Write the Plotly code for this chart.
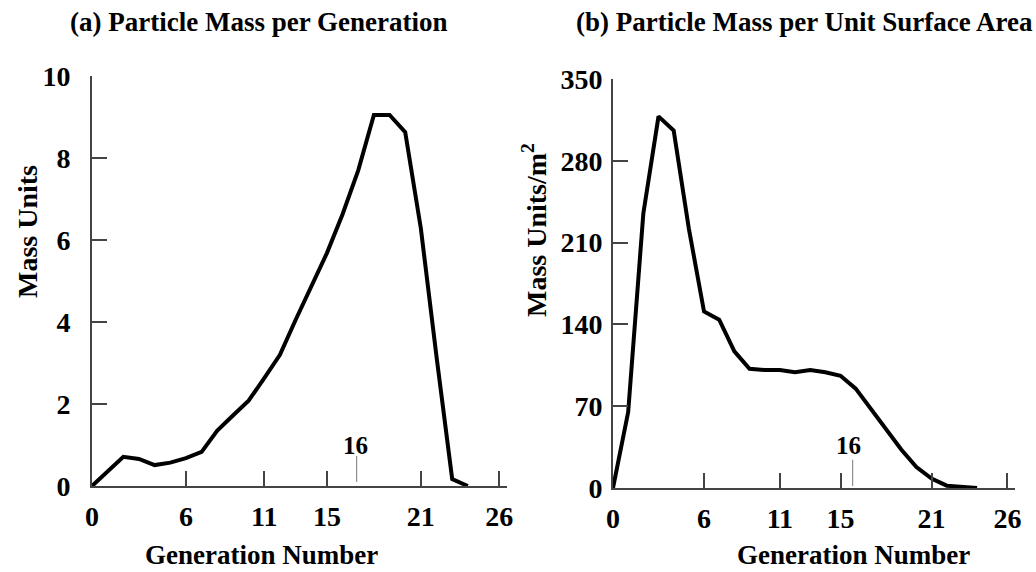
import plotly.graph_objects as go

# ---- data ----
generations = list(range(0, 25))
mass_per_generation = [0, 0.35, 0.71, 0.66, 0.51, 0.57, 0.68, 0.83, 1.35, 1.72,
                       2.08, 2.63, 3.2, 4.05, 4.87, 5.68, 6.63, 7.7, 9.05, 9.05,
                       8.63, 6.28, 3.15, 0.17, 0]
mass_per_area = [0, 65, 235, 318, 306, 222, 151, 144, 117, 102,
                 101, 101, 99, 101, 99, 96, 85, 68, 51, 33,
                 18, 8, 2, 0.6, 0]

x_tickvals = [0, 6, 11, 15, 21, 26]
y_tickvals_a = [0, 2, 4, 6, 8, 10]
y_tickvals_b = [0, 70, 140, 210, 280, 350]
marker_label = "16"
marker_pos_a = 16.9
marker_pos_b = 15.8

W, H = 1036, 572
FONT = "Liberation Serif"

def px(x):
    return x / W

def py(y):
    return 1 - y / H

fig = go.Figure()
fig.add_trace(go.Scatter(x=generations, y=mass_per_generation, mode="lines",
                         line=dict(color="black", width=4), xaxis="x", yaxis="y",
                         showlegend=False))
fig.add_trace(go.Scatter(x=generations, y=mass_per_area, mode="lines",
                         line=dict(color="black", width=4), xaxis="x2", yaxis="y2",
                         showlegend=False))

axis_common = dict(showline=True, linecolor="#444", linewidth=2, showgrid=False,
                   zeroline=False, ticks="inside", ticklen=15, tickwidth=1.5,
                   tickcolor="#444", automargin=False,
                   tickfont=dict(family=FONT, size=28, color="black", weight="bold"))

fig.update_layout(
    template="none",
    width=W, height=H,
    margin=dict(l=0, r=0, t=0, b=0, pad=0),
    plot_bgcolor="white", paper_bgcolor="white",
    xaxis=dict(domain=[px(92), px(507)], range=[0, 26.5], tickvals=x_tickvals,
               anchor="y", ticklabelstandoff=4, **axis_common),
    yaxis=dict(domain=[py(486), py(76)], range=[0, 10], tickvals=y_tickvals_a,
               anchor="x", ticklabelstandoff=14, **axis_common),
    xaxis2=dict(domain=[px(613), px(1015)], range=[0, 26.5], tickvals=x_tickvals,
                anchor="y2", ticklabelstandoff=4, **axis_common),
    yaxis2=dict(domain=[py(488), py(79)], range=[0, 350], tickvals=y_tickvals_b,
                anchor="x2", ticklabelstandoff=3, **axis_common),
)

title_font = dict(family=FONT, size=27, color="black", weight="bold")
xtitle_font = dict(family=FONT, size=27, color="black", weight="bold")
ytitle_font = dict(family=FONT, size=28, color="black", weight="bold")
ann = [
    dict(text="(a) Particle Mass per Generation", x=px(258), y=py(22), font=title_font),
    dict(text="(b) Particle Mass per Unit Surface Area", x=px(804), y=py(22), font=title_font),
    dict(text="Generation Number", x=px(261), y=py(555), font=xtitle_font),
    dict(text="Generation Number", x=px(853), y=py(555), font=xtitle_font),
    dict(text="Mass Units", x=px(27), y=py(232), textangle=-90, font=ytitle_font),
    dict(text="Mass Units/m<sup>2</sup>", x=px(534), y=py(230), textangle=-90, font=ytitle_font),
]
for a in ann:
    fig.add_annotation(xref="paper", yref="paper", showarrow=False,
                       xanchor="center", yanchor="middle", **a)

# "16" markers
fig.add_shape(type="line", xref="x", yref="y domain", x0=marker_pos_a, x1=marker_pos_a,
              y0=0.01, y1=0.073, line=dict(color="#777", width=1))
fig.add_shape(type="line", xref="x2", yref="y2 domain", x0=marker_pos_b, x1=marker_pos_b,
              y0=0.005, y1=0.069, line=dict(color="#777", width=1))
fig.add_annotation(xref="x", yref="y domain", x=marker_pos_a - 0.1, y=0.098,
                   text=marker_label, showarrow=False, yanchor="middle",
                   font=dict(family=FONT, size=25, color="black", weight="bold"))
fig.add_annotation(xref="x2", yref="y2 domain", x=marker_pos_b - 0.3, y=0.105,
                   text=marker_label, showarrow=False, yanchor="middle",
                   font=dict(family=FONT, size=25, color="black", weight="bold"))

fig.write_html("out.html")
